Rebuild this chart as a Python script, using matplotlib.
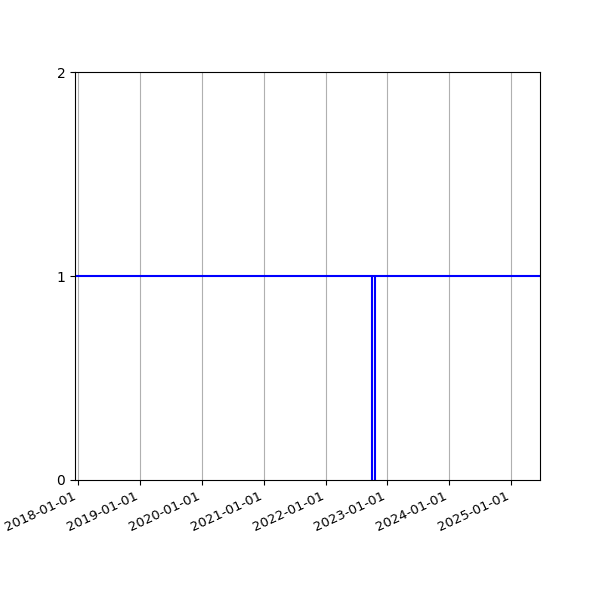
import matplotlib
matplotlib.use('Agg')
from matplotlib import pyplot as plt
import matplotlib.dates as mdates
import pandas as pd

# status series (1 = up) and the two outage marks
dates = pd.to_datetime(['2017-12-12', '2025-06-20'])
status = [1, 1]
outages = pd.to_datetime(['2022-10-03', '2022-10-21'])

fig, ax = plt.subplots(figsize=(6, 6), dpi=100)
ax.plot(dates, status, color='blue', linewidth=1.5)
ax.vlines(outages, 0, 1, color='blue', linewidth=1.5)

ax.set_xlim(dates[0], dates[-1])
ax.set_ylim(0, 2)
ax.set_yticks([0, 1, 2])
ax.xaxis.set_major_locator(mdates.YearLocator())
ax.xaxis.set_major_formatter(mdates.DateFormatter('%Y-%m-%d'))
ax.grid(axis='x', color='#b0b0b0')
fig.autofmt_xdate(rotation=25)
plt.setp(ax.get_xticklabels(), fontsize=9.5)

fig.savefig('out.png')
